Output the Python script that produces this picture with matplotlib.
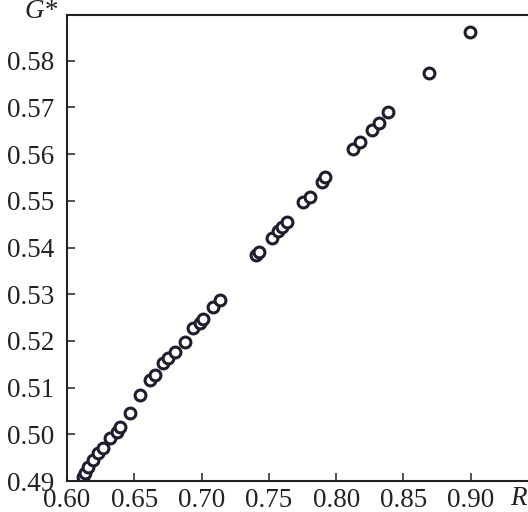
import matplotlib
matplotlib.use("Agg")
import matplotlib.pyplot as plt

# Data
R_star = [0.6119, 0.6134, 0.6156, 0.6193, 0.6230, 0.6267, 0.6319, 0.6369, 0.6394,
          0.6468, 0.6542, 0.6617, 0.6654, 0.6713, 0.6750, 0.6802, 0.6877, 0.6936,
          0.6988, 0.7010, 0.7085, 0.7137,
          0.7404, 0.7426, 0.7523, 0.7568, 0.7597, 0.7634,
          0.7753, 0.7805, 0.7894, 0.7917,
          0.8125, 0.8180, 0.8266, 0.8318, 0.8386,
          0.8690, 0.8994]
G_star = [0.4909, 0.4917, 0.4930, 0.4945, 0.4960, 0.4970, 0.4992, 0.5005, 0.5016,
          0.5046, 0.5084, 0.5116, 0.5127, 0.5152, 0.5163, 0.5176, 0.5198, 0.5228,
          0.5238, 0.5246, 0.5273, 0.5288,
          0.5384, 0.5390, 0.5420, 0.5435, 0.5444, 0.5455,
          0.5497, 0.5508, 0.5540, 0.5551,
          0.5611, 0.5626, 0.5652, 0.5667, 0.5690,
          0.5774, 0.5861]
x_ticks = [0.60, 0.65, 0.70, 0.75, 0.80, 0.85, 0.90]
x_tick_labels = ["0.60", "0.65", "0.70", "0.75", "0.80", "0.85", "0.90"]
y_ticks = [0.49, 0.50, 0.51, 0.52, 0.53, 0.54, 0.55, 0.56, 0.57, 0.58]
y_tick_labels = ["0.49", "0.50", "0.51", "0.52", "0.53", "0.54", "0.55", "0.56", "0.57", "0.58"]

plt.rcParams['font.family'] = ['Liberation Serif', 'DejaVu Serif']

fig = plt.figure(figsize=(5.28, 5.12), dpi=100)
ax = fig.add_axes([67/528, 1 - 481/512, 1 - 67/528, (481 - 15)/512])

ax.plot(R_star, G_star, linestyle='none', marker='o', ms=7.8, mew=2.2,
        mfc='white', mec='#1e1e2e')

ax.set_xlim(0.60, 0.6 + 461/1346)
ax.set_ylim(0.49, 0.49 + 466/4670)
ax.set_xticks(x_ticks)
ax.set_xticklabels(x_tick_labels)
ax.set_yticks(y_ticks)
ax.set_yticklabels(y_tick_labels)

for s in ['left', 'bottom', 'top']:
    ax.spines[s].set_linewidth(1.5)
    ax.spines[s].set_color('#222222')
ax.spines['right'].set_visible(False)

ax.tick_params(direction='in', length=6, width=1.2, color='#333333',
               labelsize=19.5, labelcolor='#222222')
ax.tick_params(axis='y', pad=9)
ax.tick_params(axis='x', pad=5)

fig.text(58/528, 1 - 18/512, 'G*', fontsize=19.5, style='italic',
         color='#222222', va='baseline', ha='right')
fig.text(510/528, 1 - 505/512, 'R*', fontsize=19.5, style='italic',
         color='#222222', va='baseline', ha='left')

fig.savefig('out.png', dpi=100)
